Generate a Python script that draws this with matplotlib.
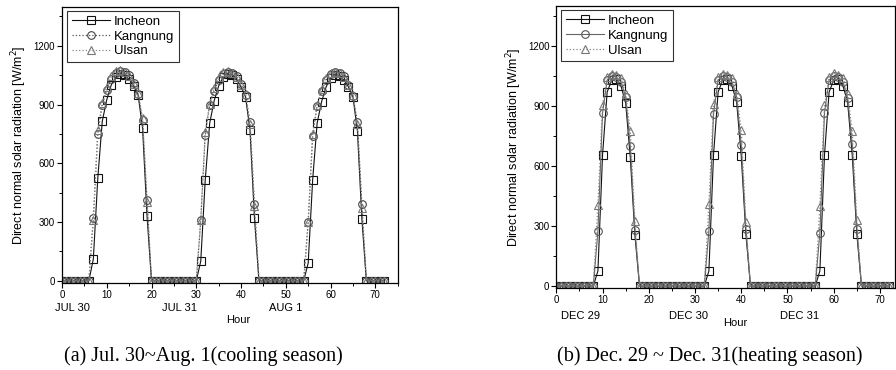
import matplotlib
matplotlib.use("Agg")
import matplotlib.pyplot as plt
from matplotlib.ticker import MultipleLocator

plt.rcParams['font.family'] = ['Liberation Sans', 'DejaVu Sans']

hours = list(range(0, 73))

# Cooling season (Jul 30 ~ Aug 1)
incheon_cool = [0, 0, 0, 0, 0, 0, 0,
                110, 525, 815, 925, 1000, 1040, 1055, 1050, 1030, 995, 950, 780, 330,
                0, 0, 0, 0, 0, 0, 0, 0, 0, 0, 0,
                100, 515, 805, 920, 995, 1040, 1055, 1050, 1030, 990, 940, 770, 320,
                0, 0, 0, 0, 0, 0, 0, 0, 0, 0, 0,
                90, 515, 805, 915, 990, 1035, 1050, 1045, 1025, 990, 940, 765, 315,
                0, 0, 0, 0, 0]
kangnung_cool = [0, 0, 0, 0, 0, 0, 0,
                 320, 750, 900, 975, 1030, 1060, 1070, 1065, 1050, 1010, 955, 820, 410,
                 0, 0, 0, 0, 0, 0, 0, 0, 0, 0, 0,
                 310, 745, 900, 970, 1025, 1055, 1065, 1060, 1045, 1005, 950, 810, 390,
                 0, 0, 0, 0, 0, 0, 0, 0, 0, 0, 0,
                 300, 740, 895, 970, 1025, 1055, 1065, 1060, 1045, 1000, 945, 810, 390,
                 0, 0, 0, 0, 0]
ulsan_cool = [0, 0, 0, 0, 0, 0, 0,
              310, 770, 910, 990, 1045, 1070, 1075, 1065, 1045, 1005, 960, 830, 400,
              0, 0, 0, 0, 0, 0, 0, 0, 0, 0, 0,
              310, 760, 905, 985, 1040, 1065, 1070, 1060, 1040, 1000, 955, 800, 380,
              0, 0, 0, 0, 0, 0, 0, 0, 0, 0, 0,
              300, 750, 900, 980, 1035, 1060, 1065, 1060, 1040, 1000, 950, 800, 370,
              0, 0, 0, 0, 0]

# Heating season (Dec 29 ~ Dec 31)
incheon_heat = [0, 0, 0, 0, 0, 0, 0, 0, 0,
                75, 655, 970, 1030, 1035, 1000, 915, 645, 255,
                0, 0, 0, 0, 0, 0, 0, 0, 0, 0, 0, 0, 0, 0, 0,
                75, 655, 970, 1030, 1035, 1000, 920, 650, 260,
                0, 0, 0, 0, 0, 0, 0, 0, 0, 0, 0, 0, 0, 0, 0,
                75, 655, 970, 1030, 1035, 1000, 920, 655, 260,
                0, 0, 0, 0, 0, 0, 0]
kangnung_heat = [0, 0, 0, 0, 0, 0, 0, 0, 0,
                 275, 865, 1030, 1050, 1045, 1020, 945, 700, 280,
                 0, 0, 0, 0, 0, 0, 0, 0, 0, 0, 0, 0, 0, 0, 0,
                 275, 860, 1030, 1050, 1045, 1020, 945, 705, 285,
                 0, 0, 0, 0, 0, 0, 0, 0, 0, 0, 0, 0, 0, 0, 0,
                 265, 865, 1030, 1050, 1045, 1020, 940, 710, 285,
                 0, 0, 0, 0, 0, 0, 0]
ulsan_heat = [0, 0, 0, 0, 0, 0, 0, 0, 0,
              405, 905, 1045, 1060, 1055, 1040, 960, 775, 325,
              0, 0, 0, 0, 0, 0, 0, 0, 0, 0, 0, 0, 0, 0, 0,
              410, 910, 1045, 1060, 1055, 1040, 960, 780, 320,
              0, 0, 0, 0, 0, 0, 0, 0, 0, 0, 0, 0, 0, 0, 0,
              400, 905, 1045, 1065, 1055, 1040, 960, 775, 330,
              0, 0, 0, 0, 0, 0, 0]

station_names = ["Incheon", "Kangnung", "Ulsan"]
cool_dates = ["JUL 30", "JUL 31", "AUG 1"]
cool_date_pos = [2.3, 26.3, 50.0]
heat_dates = ["DEC 29", "DEC 30", "DEC 31"]
heat_date_pos = [5.2, 28.6, 52.6]
captions = ["(a) Jul. 30~Aug. 1(cooling season)", "(b) Dec. 29 ~ Dec. 31(heating season)"]

fig = plt.figure(figsize=(8.96, 3.70), dpi=100)
ax1 = fig.add_axes([62 / 896, 1 - 282.7 / 370, 335.7 / 896, 276 / 370])
ax2 = fig.add_axes([556.3 / 896, 1 - 288 / 370, 338.7 / 896, 282 / 370])

styles_cool = [
    dict(color="#111111", ls="-", marker="s", lw=0.8, mec="#111111"),
    dict(color="#555555", ls=":", marker="o", lw=0.9, mec="#444444"),
    dict(color="#888888", ls=":", marker="^", lw=0.9, mec="#777777"),
]
styles_heat = [
    dict(color="#111111", ls="-", marker="s", lw=0.8, mec="#111111"),
    dict(color="#666666", ls="-", marker="o", lw=0.8, mec="#555555"),
    dict(color="#888888", ls=":", marker="^", lw=0.9, mec="#777777"),
]

def draw(ax, series, styles, xmax, dates, date_pos, date_y):
    for name, vals, st in zip(station_names, series, styles):
        ax.plot(hours, vals, label=name, color=st["color"], ls=st["ls"], lw=st["lw"],
                marker=st["marker"], ms=5.5, mfc="none", mec=st["mec"], mew=0.8)
    ax.set_xlim(0, xmax)
    ax.set_ylim(-10, 1400)
    ax.xaxis.set_major_locator(MultipleLocator(10))
    ax.xaxis.set_minor_locator(MultipleLocator(5))
    ax.yaxis.set_minor_locator(MultipleLocator(150))
    ax.set_yticks([0, 300, 600, 900, 1200])
    ax.tick_params(which="major", direction="out", length=3.5, width=0.8, labelsize=7, pad=1.5)
    ax.tick_params(which="minor", direction="out", length=2, width=0.7)
    ax.set_ylabel("Direct normal solar radiation [W/m$^2$]", fontsize=9, labelpad=3)
    for s in ax.spines.values():
        s.set_linewidth(0.9)
    for d, p in zip(dates, date_pos):
        ax.text(p, date_y, d, transform=ax.get_xaxis_transform(), ha="center", va="center",
                fontsize=8)
    leg = ax.legend(loc="upper left", bbox_to_anchor=(0.015, 0.985), fontsize=9.5,
                    handlelength=2.9, handletextpad=0.3, borderpad=0.35, labelspacing=0.2,
                    frameon=True, fancybox=False, edgecolor="black", borderaxespad=0.0)
    leg.get_frame().set_linewidth(0.8)

draw(ax1, [incheon_cool, kangnung_cool, ulsan_cool], styles_cool, 75,
     cool_dates, cool_date_pos, -0.09)
draw(ax2, [incheon_heat, kangnung_heat, ulsan_heat], styles_heat, 73.25,
     heat_dates, heat_date_pos, -0.10)

fig.text(238 / 896, 1 - 320 / 370, "Hour", ha="center", va="center", fontsize=8)
fig.text(735 / 896, 1 - 323 / 370, "Hour", ha="center", va="center", fontsize=8)

fig.text(203 / 896, 1 - 356 / 370, captions[0], ha="center", va="center", fontsize=14.5,
         family="Liberation Serif")
fig.text(710 / 896, 1 - 356 / 370, captions[1], ha="center", va="center", fontsize=14.5,
         family="Liberation Serif")

fig.savefig("out.png", dpi=100)
